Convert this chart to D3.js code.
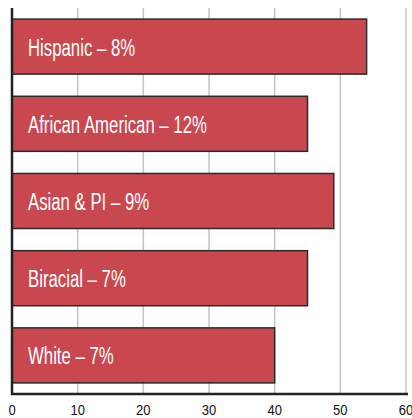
<!DOCTYPE html>
<html><head><meta charset="utf-8">
<script src="https://cdn.jsdelivr.net/npm/d3@7"></script>
<style>html,body{margin:0;padding:0;background:#fff;}</style>
</head><body>
<svg id="c" width="412" height="418"></svg>
<script>
const categories = ["Hispanic – 8%", "African American – 12%", "Asian & PI – 9%", "Biracial – 7%", "White – 7%"];
const values = [54, 45, 49, 45, 40];
const ticks = [0, 10, 20, 30, 40, 50, 60];

(function () {
const svg = d3.select("#c");
const mL = 12, mR = 406, mT = 8, mB = 394;
const x = d3.scaleLinear().domain([0, 60]).range([mL, mR]);
const y = d3.scaleBand().domain(categories).range([mT, mB]).paddingInner(0.287).paddingOuter(0.1435);
const FONT = "'Liberation Sans', Arial, sans-serif";

svg.append("g").selectAll("line").data(ticks.slice(1)).join("line")
  .attr("x1", d => x(d)).attr("x2", d => x(d))
  .attr("y1", mT).attr("y2", mB)
  .attr("stroke", "#c4c4c4").attr("stroke-width", 1.5);

svg.append("g").selectAll("rect").data(values).join("rect")
  .attr("x", x(0)).attr("y", (d, i) => y(categories[i]))
  .attr("width", d => x(d) - x(0)).attr("height", y.bandwidth())
  .attr("fill", "#c94850").attr("stroke", "#2a2a2a").attr("stroke-width", 1.5);

const labels = svg.append("g").selectAll("text").data(categories).join("text")
  .attr("fill", "#fff")
  .attr("font-family", FONT)
  .attr("font-size", 24.5)
  .attr("dy", "0.35em")
  .text(d => d);
const refW = labels.filter((d, i) => i === 1).node().getComputedTextLength();
const s = 179 / refW;
labels.attr("transform", d => `translate(${x(0) + 16},${y(d) + y.bandwidth() / 2 + 0.5}) scale(${s},1)`);

const ax = d3.axisBottom(x).tickValues(ticks).tickSize(0).tickPadding(0).tickFormat(d3.format("d"));
const g = svg.append("g").attr("transform", `translate(0,${mB})`).call(ax);
g.select(".domain").remove();
g.selectAll("text")
  .attr("font-family", FONT).attr("font-size", 15.5).attr("fill", "#111")
  .attr("y", 0).attr("dy", 0)
  .attr("transform", "translate(0,20.5) scale(0.84,1)")
  .attr("x", 0);
g.selectAll(".tick").attr("transform", d => `translate(${x(d)},0)`);

svg.append("line").attr("x1", mL - 1).attr("x2", mR + 2).attr("y1", mB).attr("y2", mB)
  .attr("stroke", "#222").attr("stroke-width", 2.5);
svg.append("line").attr("x1", mL).attr("x2", mL).attr("y1", mT).attr("y2", mB + 1)
  .attr("stroke", "#222").attr("stroke-width", 2.5);
})();
</script>
</body></html>
